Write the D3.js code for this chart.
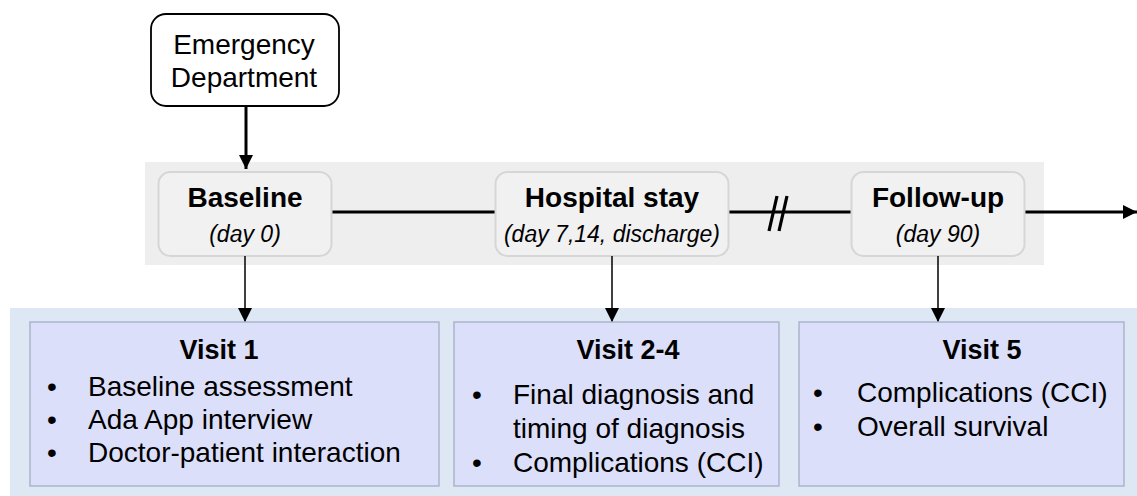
<!DOCTYPE html>
<html>
<head>
<meta charset="utf-8">
<script src="https://cdn.jsdelivr.net/npm/d3@7"></script>
<style>
  body { margin: 0; background: #fff; }
  svg { display: block; font-family: "Liberation Sans", Arial, sans-serif; }
</style>
</head>
<body>
<div id="chart"></div>
<script>
'use strict';

// diagram content
const entry = ["Emergency", "Department"];
const stages = ["Baseline", "Hospital stay", "Follow-up"];
const stageDays = ["(day 0)", "(day 7,14, discharge)", "(day 90)"];
const visits = ["Visit 1", "Visit 2-4", "Visit 5"];
const visitItems = [
    [["Baseline assessment"], ["Ada App interview"], ["Doctor-patient interaction"]],
    [["Final diagnosis and", "timing of diagnosis"], ["Complications (CCI)"]],
    [["Complications (CCI)"], ["Overall survival"]]
];

const width = 1137, height = 496;

const svg = d3.select('#chart').append('svg')
    .attr('width', width)
    .attr('height', height);

const defs = svg.append('defs');
function marker(id, w, h) {
    defs.append('marker')
        .attr('id', id)
        .attr('viewBox', '0 0 10 10')
        .attr('refX', 10).attr('refY', 5)
        .attr('markerUnits', 'userSpaceOnUse')
        .attr('markerWidth', w).attr('markerHeight', h)
        .attr('orient', 'auto')
        .append('path')
        .attr('d', 'M0,0L10,5L0,10Z')
        .attr('fill', '#000');
}
marker('headBig', 16, 14);
marker('headSmall', 14, 14);

// layout
const stageX = d3.scaleOrdinal().domain(stages).range([245, 612, 938]);
const stageW = d3.scaleOrdinal().domain(stages).range([173, 233, 173]);
const visitLeft = d3.scaleOrdinal().domain(visits).range([30, 454, 799]);
const visitW = d3.scaleOrdinal().domain(visits).range([409, 325, 325]);
const visitTitleX = d3.scaleOrdinal().domain(visits).range([219, 628, 982]);
const bulletX = d3.scaleOrdinal().domain(visits).range([47, 472, 813]);
const textX = d3.scaleOrdinal().domain(visits).range([88, 513, 857]);
const stageTop = 172, stageH = 84, lineY = 212;
const visitTop = 322, visitH = 164;

// background bands
svg.append('rect')
    .attr('x', 145).attr('y', 162).attr('width', 899).attr('height', 103)
    .attr('fill', '#eeeeee');
svg.append('rect')
    .attr('x', 10).attr('y', 308).attr('width', width - 10).attr('height', height - 308)
    .attr('fill', '#dee8f4');

// emergency department box
svg.append('rect')
    .attr('x', 151).attr('y', 14).attr('width', 188).attr('height', 92)
    .attr('rx', 15)
    .attr('fill', '#fff').attr('stroke', '#000').attr('stroke-width', 1.8);
svg.selectAll('text.entry').data(entry).enter().append('text')
    .attr('class', 'entry')
    .attr('x', 244)
    .attr('y', (d, i) => 54 + i * 33)
    .attr('text-anchor', 'middle')
    .attr('font-size', 28)
    .text(d => d);
svg.append('line')
    .attr('x1', 246).attr('y1', 106).attr('x2', 246).attr('y2', 169)
    .attr('stroke', '#000').attr('stroke-width', 3)
    .attr('marker-end', 'url(#headBig)');

// timeline line
const segs = [];
for (let i = 0; i < stages.length - 1; i++) {
    segs.push([stageX(stages[i]) + stageW(stages[i]) / 2, stageX(stages[i + 1]) - stageW(stages[i + 1]) / 2]);
}
svg.selectAll('line.seg').data(segs).enter().append('line')
    .attr('x1', d => d[0]).attr('x2', d => d[1])
    .attr('y1', lineY).attr('y2', lineY)
    .attr('stroke', '#000').attr('stroke-width', 3);
const last = stages[stages.length - 1];
svg.append('line')
    .attr('x1', stageX(last) + stageW(last) / 2).attr('x2', width)
    .attr('y1', lineY).attr('y2', lineY)
    .attr('stroke', '#000').attr('stroke-width', 3)
    .attr('marker-end', 'url(#headBig)');

// break mark
[0, 10].forEach(function (dx) {
    svg.append('line')
        .attr('x1', 777 + dx).attr('y1', 196)
        .attr('x2', 769 + dx).attr('y2', 231)
        .attr('stroke', '#000').attr('stroke-width', 3.2);
});

// stage boxes
const sg = svg.selectAll('g.stage').data(stages).enter().append('g').attr('class', 'stage');
sg.append('rect')
    .attr('x', d => stageX(d) - stageW(d) / 2)
    .attr('y', stageTop)
    .attr('width', d => stageW(d))
    .attr('height', stageH)
    .attr('rx', 12)
    .attr('fill', '#f1f1f1').attr('stroke', '#d6d6d6').attr('stroke-width', 2);
sg.append('text')
    .attr('x', d => stageX(d)).attr('y', 207)
    .attr('text-anchor', 'middle')
    .attr('font-size', 28).attr('font-weight', 'bold')
    .text(d => d);
sg.append('text')
    .attr('x', d => stageX(d)).attr('y', 242)
    .attr('text-anchor', 'middle')
    .attr('font-size', 23).attr('font-style', 'italic')
    .text((d, i) => stageDays[i]);
sg.append('line')
    .attr('x1', d => stageX(d)).attr('x2', d => stageX(d))
    .attr('y1', stageTop + stageH).attr('y2', visitTop)
    .attr('stroke', '#000').attr('stroke-width', 1.5)
    .attr('marker-end', 'url(#headSmall)');

// visit boxes
const vg = svg.selectAll('g.visit').data(visits).enter().append('g').attr('class', 'visit');
vg.append('rect')
    .attr('x', d => visitLeft(d))
    .attr('y', visitTop)
    .attr('width', d => visitW(d))
    .attr('height', visitH)
    .attr('fill', '#dcdff9').attr('stroke', '#abb5cb').attr('stroke-width', 1.5);
vg.append('text')
    .attr('x', d => visitTitleX(d)).attr('y', 359)
    .attr('text-anchor', 'middle')
    .attr('font-size', 27).attr('font-weight', 'bold')
    .text(d => d);

vg.each(function (v, vi) {
    const g = d3.select(this);
    let row = 0;
    const lineH = vi === 0 ? 33 : 34;
    const y0 = vi === 0 ? 396 : (vi === 1 ? 404 : 402);
    visitItems[vi].forEach(function (item) {
        g.append('text')
            .attr('x', bulletX(v)).attr('y', y0 + row * lineH)
            .attr('font-size', 28)
            .text('\u2022');
        item.forEach(function (ln) {
            g.append('text')
                .attr('x', textX(v)).attr('y', y0 + row * lineH)
                .attr('font-size', 28)
                .text(ln);
            row++;
        });
    });
});
</script>
</body>
</html>
